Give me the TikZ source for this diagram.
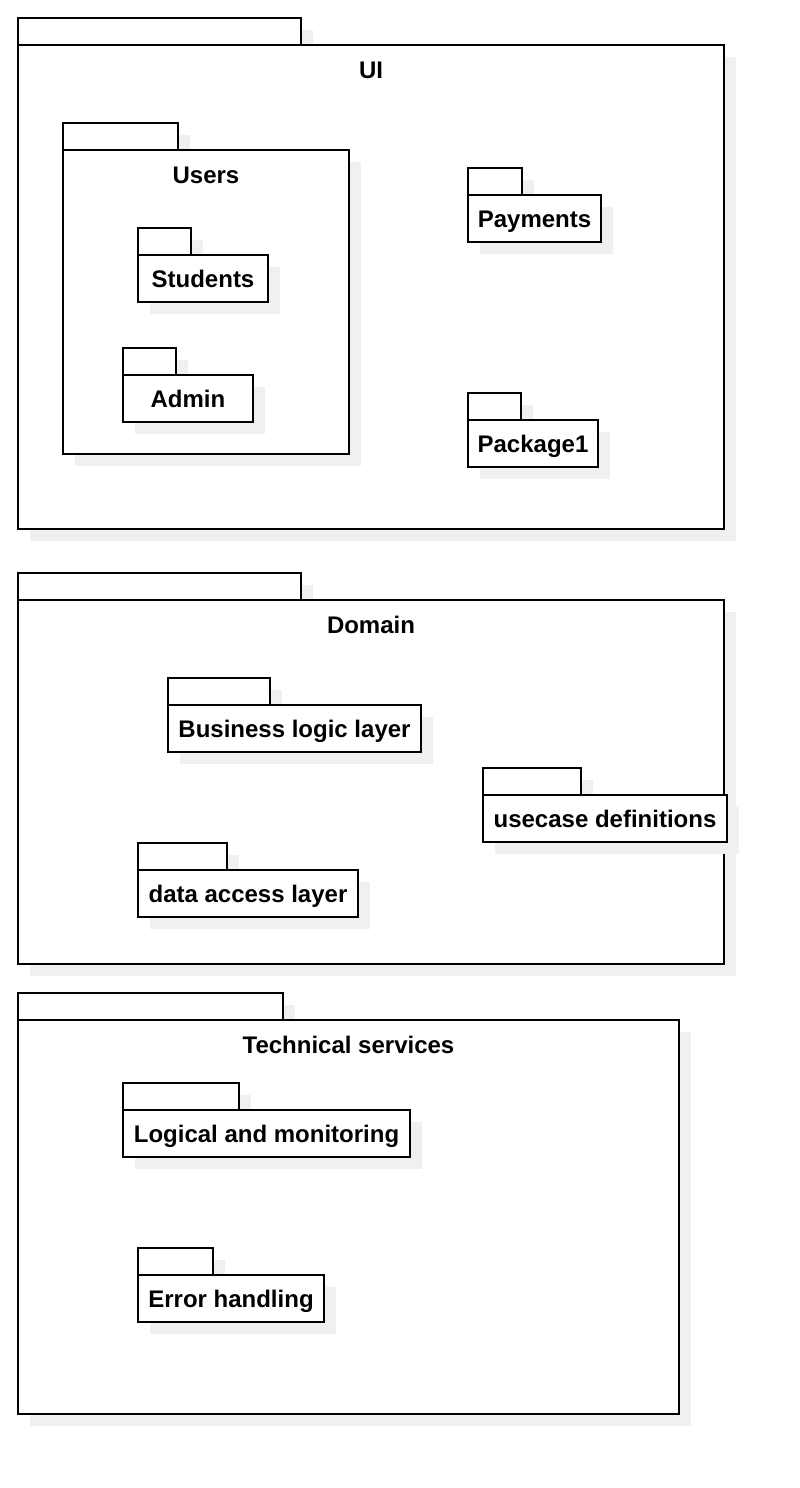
\documentclass[tikz,border=0pt]{standalone}
\usepackage{fontspec}
\setmainfont{Liberation Sans}
\usetikzlibrary{shadows}

\begin{document}
\begin{tikzpicture}
		[x=1pt, y=-1pt,
		pkg/.style ={draw=black, line width=2pt, fill=white, inner sep=0pt, outer sep=0pt,
		drop shadow={shadow xshift=12pt, shadow yshift=-12pt, fill=black!6, opacity=1}},
		pkgtab/.style ={pkg, anchor=south west, minimum height=27pt},
		pkgbody/.style ={pkg, anchor=north west},
		small/.style ={pkgbody, minimum height=47pt, font=\fontsize{24}{28}\selectfont\bfseries, text height=17pt, text depth=0pt},
		title/.style ={font=\fontsize{24}{28}\selectfont\bfseries, anchor=base, inner sep=0pt},
		]
		\useasboundingbox (0,0) rectangle (800,1488);

		% UI layer
		\node[pkgtab, minimum width=283pt] (UI-tab) at (18,45) {};
		\node[pkgbody, minimum width=706pt, minimum height=484pt] (UI) at (18,45) {};
		\node[title] (UI-title) at (371,78) {UI};

		\node[pkgtab, minimum width=115pt] (Users-tab) at (63,150) {};
		\node[pkgbody, minimum width=286pt, minimum height=304pt] (Users) at (63,150) {};
		\node[title] (Users-title) at (206,183) {Users};

		\node[pkgtab, minimum width=53pt] (Students-tab) at (138,255) {};
		\node[small, minimum width=130pt] (Students) at (138,255) {Students};
		\node[pkgtab, minimum width=53pt] (Admin-tab) at (123,375) {};
		\node[small, minimum width=130pt] (Admin) at (123,375) {Admin};

		\node[pkgtab, minimum width=54pt] (Payments-tab) at (468,195) {};
		\node[small, minimum width=133pt] (Payments) at (468,195) {Payments};
		\node[pkgtab, minimum width=53pt] (Package1-tab) at (468,420) {};
		\node[small, minimum width=130pt] (Package1) at (468,420) {Package1};

		% Domain layer
		\node[pkgtab, minimum width=283pt] (Domain-tab) at (18,600) {};
		\node[pkgbody, minimum width=706pt, minimum height=364pt] (Domain) at (18,600) {};
		\node[title] (Domain-title) at (371,633) {Domain};

		\node[pkgtab, minimum width=102pt] (BLL-tab) at (168,705) {};
		\node[small, minimum width=253pt] (BLL) at (168,705) {Business logic layer};
		\node[pkgtab, minimum width=98pt] (UCD-tab) at (483,795) {};
		\node[small, minimum width=244pt] (UCD) at (483,795) {usecase definitions};
		\node[pkgtab, minimum width=89pt] (DAL-tab) at (138,870) {};
		\node[small, minimum width=220pt] (DAL) at (138,870) {data access layer};

		% Technical services layer
		\node[pkgtab, minimum width=265pt] (TS-tab) at (18,1020) {};
		\node[pkgbody, minimum width=661pt, minimum height=394pt] (TS) at (18,1020) {};
		\node[title] (TS-title) at (348.5,1053) {Technical services};

		\node[pkgtab, minimum width=116pt] (Log-tab) at (123,1110) {};
		\node[small, minimum width=287pt] (Log) at (123,1110) {Logical and monitoring};
		\node[pkgtab, minimum width=75pt] (Err-tab) at (138,1275) {};
		\node[small, minimum width=186pt] (Err) at (138,1275) {Error handling};
	\end{tikzpicture}
\end{document}
